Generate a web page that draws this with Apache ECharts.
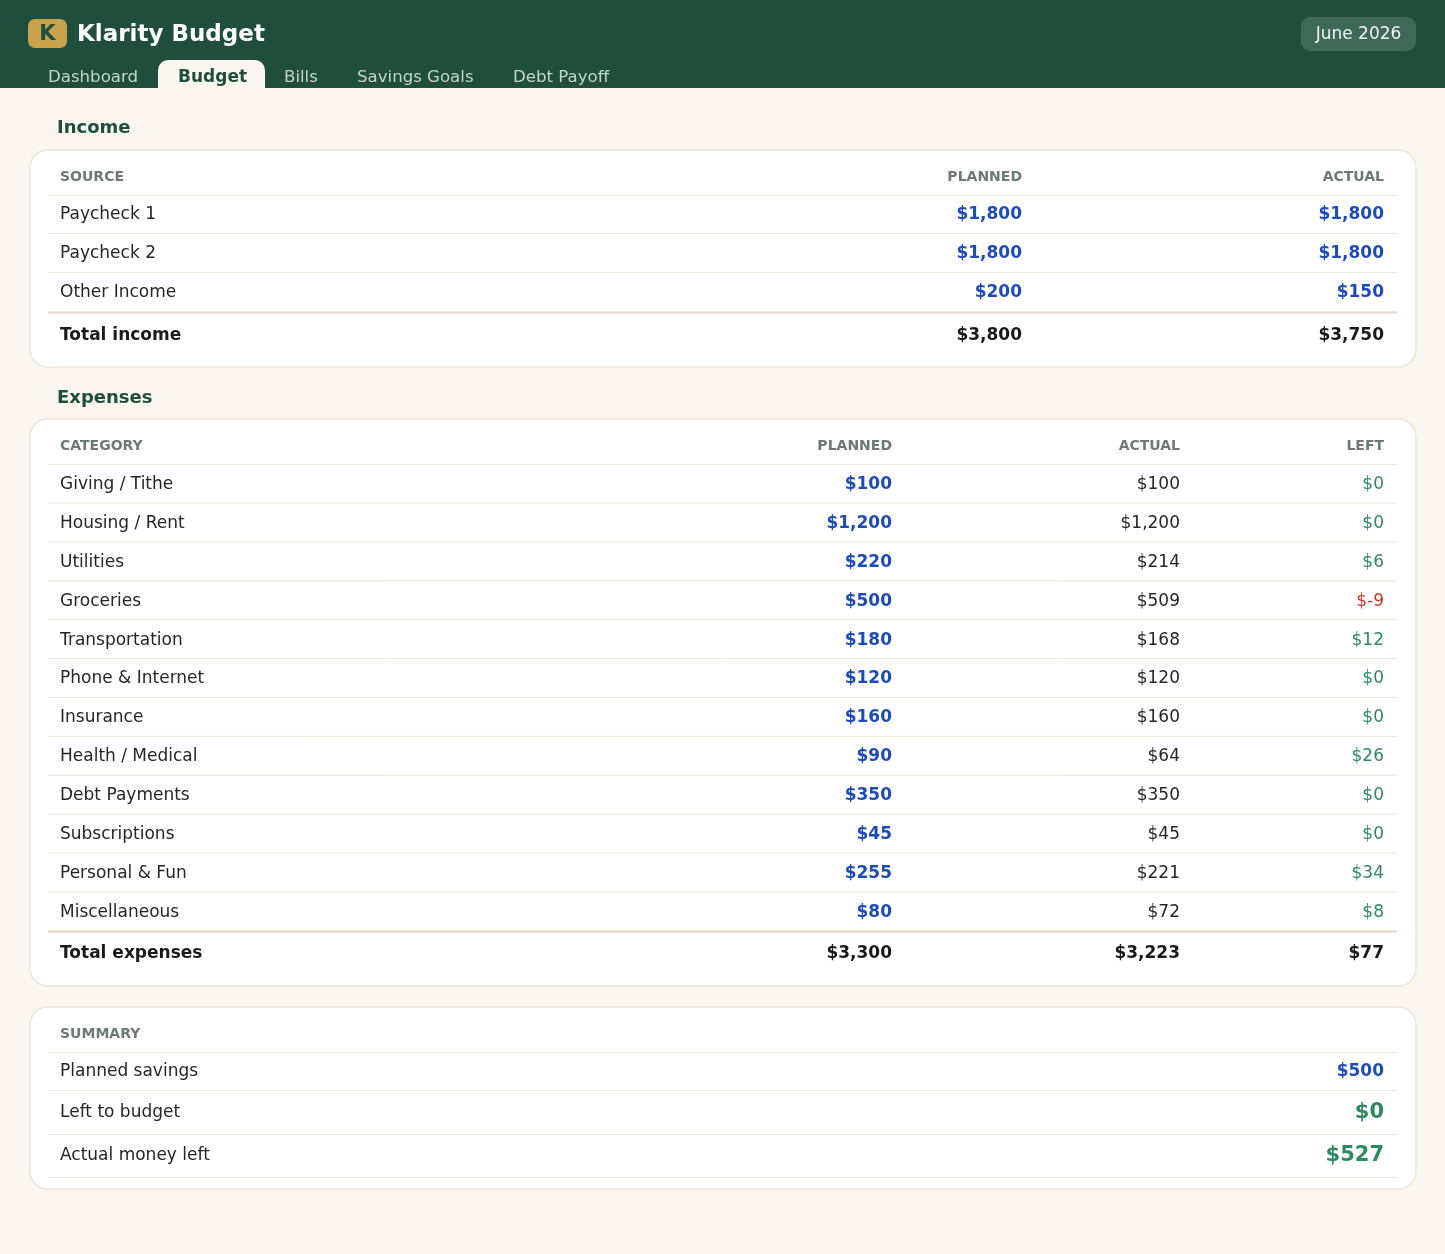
<!DOCTYPE html>
<html>
<head>
<meta charset="utf-8">
<script src="https://cdn.jsdelivr.net/npm/echarts@6/dist/echarts.min.js"></script>
<style>
  html, body { margin: 0; padding: 0; background: #faf6ef; }
  #main { width: 1445px; height: 1254px; }
</style>
</head>
<body>
<div id="main"></div>
<script>
var tabs = ['Dashboard', 'Budget', 'Bills', 'Savings Goals', 'Debt Payoff'];
var incomeSources = ['Paycheck 1', 'Paycheck 2', 'Other Income'];
var incomePlanned = [1800, 1800, 200];
var incomeActual = [1800, 1800, 150];
var expenseCategories = ['Giving / Tithe', 'Housing / Rent', 'Utilities', 'Groceries', 'Transportation',
  'Phone & Internet', 'Insurance', 'Health / Medical', 'Debt Payments', 'Subscriptions',
  'Personal & Fun', 'Miscellaneous'];
var expensePlanned = [100, 1200, 220, 500, 180, 120, 160, 90, 350, 45, 255, 80];
var expenseActual = [100, 1200, 214, 509, 168, 120, 160, 64, 350, 45, 221, 72];
var plannedSavings = 500;

var FONT = '"DejaVu Sans", sans-serif';
var GREEN_DARK = '#1f4e3d', BLUE = '#1d4cb8', GOOD = '#2e8a63', BAD = '#c53a2c';
var TEXT = '#262626', MUTED = '#6d7a73', LINE = '#ece6da';

function money(v) {
  var s = Math.abs(v).toLocaleString('en-US');
  return v < 0 ? '$-' + s : '$' + s;
}
function sum(a) { return a.reduce(function (x, y) { return x + y; }, 0); }

var els = [];
function txt(x, y, s, opt) {
  opt = opt || {};
  els.push({
    type: 'text', x: x, y: y + 2, z: 10,
    style: {
      text: s, fill: opt.color || TEXT, font: (opt.bold ? 'bold ' : '') + (opt.size || 17) + 'px ' + FONT,
      textAlign: opt.align || 'left', textVerticalAlign: 'middle'
    }
  });
}
function line(x1, x2, y, color, w) {
  els.push({ type: 'line', z: 5, shape: { x1: x1, y1: y, x2: x2, y2: y }, style: { stroke: color || LINE, lineWidth: w || 1 } });
}
function rect(x, y, w, h, r, fill, stroke) {
  els.push({ type: 'rect', z: 1, shape: { x: x, y: y, width: w, height: h, r: r },
    style: { fill: fill, stroke: stroke || null, lineWidth: stroke ? 1.5 : 0 } });
}

// header
rect(0, 0, 1445, 88, 0, GREEN_DARK);
rect(28, 19, 39, 29, 7, '#c9a34c');
txt(47.5, 33, 'K', { bold: true, size: 21, color: GREEN_DARK, align: 'center' });
txt(77, 33, 'Klarity Budget', { bold: true, size: 23, color: '#ffffff' });
rect(1301, 17, 115, 34, 9, '#3e6858');
txt(1358.5, 33, 'June 2026', { size: 17, color: '#f2f2f2', align: 'center' });
var tabX = [48, 178, 284, 357, 513];
tabs.forEach(function (t, i) {
  if (i === 1) {
    rect(158, 60, 107, 32, [10, 10, 0, 0], '#faf6ef');
    txt(tabX[i], 76, t, { bold: true, size: 17, color: GREEN_DARK });
  } else {
    txt(tabX[i], 76, t, { size: 16.6, color: '#c4d4cc' });
  }
});

// income
txt(57, 126, 'Income', { bold: true, size: 18, color: GREEN_DARK });
rect(30, 150, 1386, 217, 18, '#ffffff', LINE);
txt(60, 175, 'SOURCE', { bold: true, size: 14, color: MUTED });
txt(1022, 175, 'PLANNED', { bold: true, size: 14, color: MUTED, align: 'right' });
txt(1384, 175, 'ACTUAL', { bold: true, size: 14, color: MUTED, align: 'right' });
line(48, 1397, 195.5);
incomeSources.forEach(function (s, i) {
  var y = 213 + i * 39;
  txt(60, y, s);
  txt(1022, y, money(incomePlanned[i]), { bold: true, color: BLUE, align: 'right' });
  txt(1384, y, money(incomeActual[i]), { bold: true, color: BLUE, align: 'right' });
  if (i < incomeSources.length - 1) line(48, 1397, y + 20.5);
});
line(48, 1397, 312.5, '#e6dccb', 2.5);
txt(60, 334, 'Total income', { bold: true, color: '#1a1a1a' });
txt(1022, 334, money(sum(incomePlanned)), { bold: true, color: '#1a1a1a', align: 'right' });
txt(1384, 334, money(sum(incomeActual)), { bold: true, color: '#1a1a1a', align: 'right' });

// expenses
txt(57, 396, 'Expenses', { bold: true, size: 18, color: GREEN_DARK });
rect(30, 419, 1386, 567, 18, '#ffffff', LINE);
txt(60, 444, 'CATEGORY', { bold: true, size: 14, color: MUTED });
txt(892, 444, 'PLANNED', { bold: true, size: 14, color: MUTED, align: 'right' });
txt(1180, 444, 'ACTUAL', { bold: true, size: 14, color: MUTED, align: 'right' });
txt(1384, 444, 'LEFT', { bold: true, size: 14, color: MUTED, align: 'right' });
line(48, 1397, 464.5);
expenseCategories.forEach(function (c, i) {
  var y = 482.5 + i * 38.9;
  var left = expensePlanned[i] - expenseActual[i];
  txt(60, y, c);
  txt(892, y, money(expensePlanned[i]), { bold: true, color: BLUE, align: 'right' });
  txt(1180, y, money(expenseActual[i]), { align: 'right' });
  txt(1384, y, money(left), { color: left < 0 ? BAD : GOOD, align: 'right' });
  if (i < expenseCategories.length - 1) line(48, 1397, y + 20.5);
});
line(48, 1397, 931.5, '#e6dccb', 2.5);
var totP = sum(expensePlanned), totA = sum(expenseActual);
txt(60, 952, 'Total expenses', { bold: true, color: '#1a1a1a' });
txt(892, 952, money(totP), { bold: true, color: '#1a1a1a', align: 'right' });
txt(1180, 952, money(totA), { bold: true, color: '#1a1a1a', align: 'right' });
txt(1384, 952, money(totP - totA), { bold: true, color: '#1a1a1a', align: 'right' });

// summary
rect(30, 1007, 1386, 182, 18, '#ffffff', LINE);
txt(60, 1032, 'SUMMARY', { bold: true, size: 14, color: MUTED });
line(48, 1397, 1052.5);
txt(60, 1070, 'Planned savings');
txt(1384, 1070, money(plannedSavings), { bold: true, color: BLUE, align: 'right' });
line(48, 1397, 1090.5);
txt(60, 1111, 'Left to budget');
txt(1384, 1111, money(sum(incomePlanned) - totP - plannedSavings), { bold: true, size: 21, color: GOOD, align: 'right' });
line(48, 1397, 1134.5);
txt(60, 1154, 'Actual money left');
txt(1384, 1154, money(sum(incomeActual) - totA), { bold: true, size: 21, color: GOOD, align: 'right' });
line(48, 1397, 1177.5);

var chart = echarts.init(document.getElementById('main'));
chart.setOption({ backgroundColor: '#faf6ef', graphic: { elements: els } });
</script>
</body>
</html>
